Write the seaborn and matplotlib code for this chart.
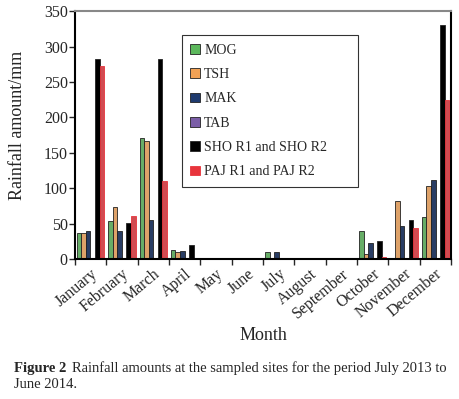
import numpy as np
import pandas as pd
import matplotlib
matplotlib.use("Agg")
import matplotlib.pyplot as plt
import seaborn as sns
from matplotlib.patches import Patch

months = ["January", "February", "March", "April", "May", "June", "July",
          "August", "September", "October", "November", "December"]
series = ["MOG", "TSH", "MAK", "TAB", "SHO R1 and SHO R2", "PAJ R1 and PAJ R2"]
mog = [36, 53, 171, 13, 0, 0, 10, 0, 0, 40, 0, 59]
tsh = [37, 73, 167, 10, 0, 0, 0, 0, 0, 7, 82, 103]
mak = [39, 39, 55, 11, 0, 0, 10, 0, 1, 23, 47, 112]
tab = [0, 0, 0, 0, 0, 0, 0, 0, 0, 0, 0, 0]
sho = [283, 51, 282, 20, 0, 0, 0, 0, 0, 26, 55, 331]
paj = [273, 61, 110, 0, 0, 0, 0, 0, 0, 3, 44, 224]
yticks = [0, 50, 100, 150, 200, 250, 300, 350]
colors = ["#5cb85c", "#f2a255", "#1f3a6e", "#7b5ea7", "#000000", "#e8343c"]

rows = []
for name, vals in zip(series, [mog, tsh, mak, tab, sho, paj]):
    for m, v in zip(months, vals):
        rows.append({"Month": m, "Site": name, "Rain": v})
df = pd.DataFrame(rows)

sns.set_theme(style="ticks")
plt.rcParams["font.family"] = ["Liberation Serif", "DejaVu Serif"]

fig = plt.figure(figsize=(4.59, 3.99), dpi=100)
ax = fig.add_axes([0.163, 0.351, 0.82, 0.621])
sns.barplot(data=df, x="Month", y="Rain", hue="Site", order=months,
            hue_order=series, palette=colors, width=0.87, ax=ax,
            edgecolor="#222222", linewidth=0.6, legend=False, errorbar=None)
for cont, col in zip(ax.containers, colors):
    for p in cont.patches:
        if col == "#e8343c":
            p.set_edgecolor(col)
        p.set_linewidth(0.6)

ax.set_ylim(0, 350)
ax.set_yticks(yticks)
ax.set_xlim(-0.5, 11.5)
ax.set_xticks(np.arange(12))
ax.set_xticklabels(months, rotation=40, ha="right", rotation_mode="anchor",
                   fontsize=11.5)
ax.set_xticks(np.arange(-0.5, 12, 1), minor=True)
ax.tick_params(axis="x", which="major", length=0, pad=5)
ax.tick_params(axis="x", which="minor", length=4, width=1, direction="out")
ax.tick_params(axis="y", labelsize=11.5, length=4, width=1, pad=1)
for s in ["left", "bottom", "right"]:
    ax.spines[s].set_linewidth(1.5)
    ax.spines[s].set_color("black")
ax.spines["top"].set_linewidth(1.5)
ax.spines["top"].set_color("#888888")
ax.set_xlabel("Month", fontsize=13, labelpad=4)
ax.set_ylabel("Rainfall amount/mm", fontsize=13)
ax.yaxis.set_label_coords(-0.13, 0.54)

handles = [Patch(facecolor=c, edgecolor=("#222222" if c != "#e8343c" else c), linewidth=0.6)
           for c in colors]
leg = ax.legend(handles, series, loc="upper left",
                bbox_to_anchor=(0.285, 0.355, 0.468, 0.548), mode="expand",
                frameon=True, fancybox=False, edgecolor="black", fontsize=10,
                handlelength=0.7, handleheight=0.7, handletextpad=0.3,
                labelspacing=0.82, borderpad=0.6, borderaxespad=0)
leg.get_frame().set_linewidth(0.8)

t1 = fig.text(0.03, 0.060, "Figure 2", fontsize=10.5, fontweight="bold",
              ha="left", va="bottom")
fig.canvas.draw()
bb = t1.get_window_extent()
x2 = bb.x1 / fig.bbox.width + 0.012
fig.text(x2, 0.060, "Rainfall amounts at the sampled sites for the period July 2013 to",
         fontsize=10.5, ha="left", va="bottom")
fig.text(0.03, 0.020, "June 2014.", fontsize=10.5, ha="left", va="bottom")

fig.savefig("out.png", dpi=100)
